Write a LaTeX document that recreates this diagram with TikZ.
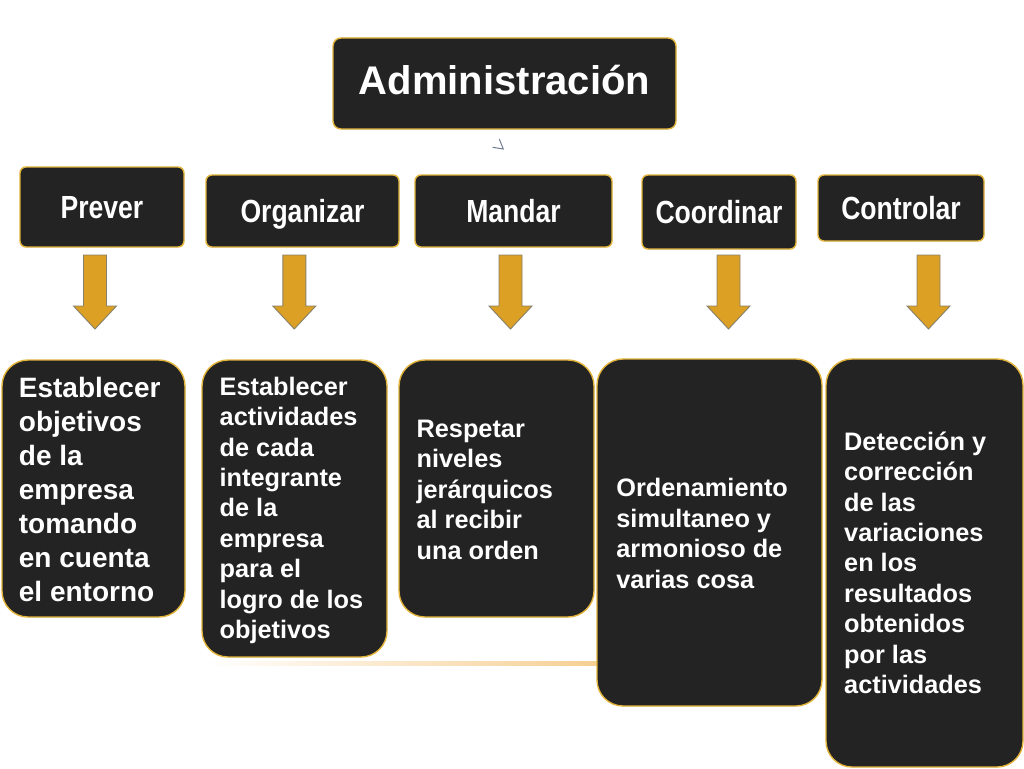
\documentclass[tikz,border=0pt]{standalone}
\usepackage{fontspec}
\setmainfont{Liberation Sans}
\newfontfamily\hdrfont{Liberation Sans}[FakeStretch=0.83]
\definecolor{boxfill}{HTML}{232323}
\definecolor{boxline}{HTML}{E2B33A}
\definecolor{arrfill}{HTML}{DBA024}
\definecolor{arrline}{HTML}{86806A}
\definecolor{glowline}{HTML}{F6CF92}
\definecolor{markgray}{HTML}{707A90}
\begin{document}
\begin{tikzpicture}[x=1pt,y=-1pt,
  topbox/.style={draw=boxline, line width=1.4pt, fill=boxfill, rounded corners=8pt,
    inner sep=0pt, text=white, font=\fontsize{40}{48}\selectfont\bfseries,
    text height=28.6pt, text depth=6pt},
  hdrbox/.style={draw=boxline, line width=1.4pt, fill=boxfill, rounded corners=6pt,
    inner sep=0pt, text=white, font=\hdrfont\bfseries\fontsize{32}{38}\selectfont,
    text height=22.9pt, text depth=0pt},
  botbox/.style={draw=boxline, line width=1.4pt, fill=boxfill, rounded corners=26pt,
    inner sep=0pt},
  bodytext/.style={text=white, align=left, inner sep=0pt, anchor=north west},
  bigbody/.style={bodytext, font=\bfseries\fontsize{28}{34}\selectfont},
  smallbody/.style={bodytext, font=\bfseries\fontsize{25.3}{30.4}\selectfont},
  goldarrow/.style={fill=arrfill, draw=arrline, line width=0.9pt, line join=miter}
]
\fill[white] (0,0) rectangle (1024,768);
\useasboundingbox (0,0) rectangle (1024,768);

% faint decorative line
\shade[left color=white, right color=glowline] (205,661) rectangle (600,665.5);

% top box
\node[topbox, minimum width=343pt, minimum height=91pt] (admin) at (504.5,83.5) {Administración};
\draw[markgray, line width=1pt] (499.3,139) -- (503.3,149) -- (492.7,147.3);

% header boxes
\node[hdrbox, minimum width=164pt, minimum height=80pt] (prever) at (102,207) {Prever};
\node[hdrbox, minimum width=193pt, minimum height=72pt] (organizar) at (302.5,211) {Organizar};
\node[hdrbox, minimum width=197pt, minimum height=72pt] (mandar) at (513.5,211) {Mandar};
\node[hdrbox, minimum width=154pt, minimum height=74pt] (coordinar) at (719,212) {Coordinar};
\node[hdrbox, minimum width=166pt, minimum height=66pt] (controlar) at (901,208) {Controlar};

% block arrows
\foreach \ax in {95,294.3,510.5,728.5,928.5}{
  \draw[goldarrow] (\ax-11.5,255) -- (\ax+11.5,255) -- (\ax+11.5,306) -- (\ax+21.5,306)
    -- (\ax,329) -- (\ax-21.5,306) -- (\ax-11.5,306) -- cycle;
}

% bottom boxes
\node[botbox, minimum width=183pt, minimum height=257pt] (b1) at (93.5,488.5) {};
\node[botbox, minimum width=185pt, minimum height=297pt] (b2) at (294.5,508.5) {};
\node[botbox, minimum width=195pt, minimum height=257pt] (b3) at (496.5,488.5) {};
\node[botbox, minimum width=225pt, minimum height=347pt] (b4) at (709.5,532.5) {};
\node[botbox, minimum width=197pt, minimum height=408pt] (b5) at (924.5,563) {};

% texts
\node[bigbody] (t1) at (18.7,374.6) {\rule{0pt}{0.8em}Establecer\\objetivos\\de la\\empresa\\tomando\\en cuenta\\el entorno};
\node[smallbody] (t2) at (219.5,374.8) {\rule{0pt}{0.8em}Establecer\\actividades\\de cada\\integrante\\de la\\empresa\\para el\\logro de los\\objetivos};
\node[smallbody] (t3) at (416.4,417.1) {\rule{0pt}{0.8em}Respetar\\niveles\\jerárquicos\\al recibir\\una orden};
\node[smallbody] (t4) at (616.2,476.5) {\rule{0pt}{0.8em}Ordenamiento\\simultaneo y\\armonioso de\\varias cosa};
\node[smallbody] (t5) at (844,429.8) {\rule{0pt}{0.8em}Detección y\\corrección\\de las\\variaciones\\en los\\resultados\\obtenidos\\por las\\actividades};
\end{tikzpicture}
\end{document}
